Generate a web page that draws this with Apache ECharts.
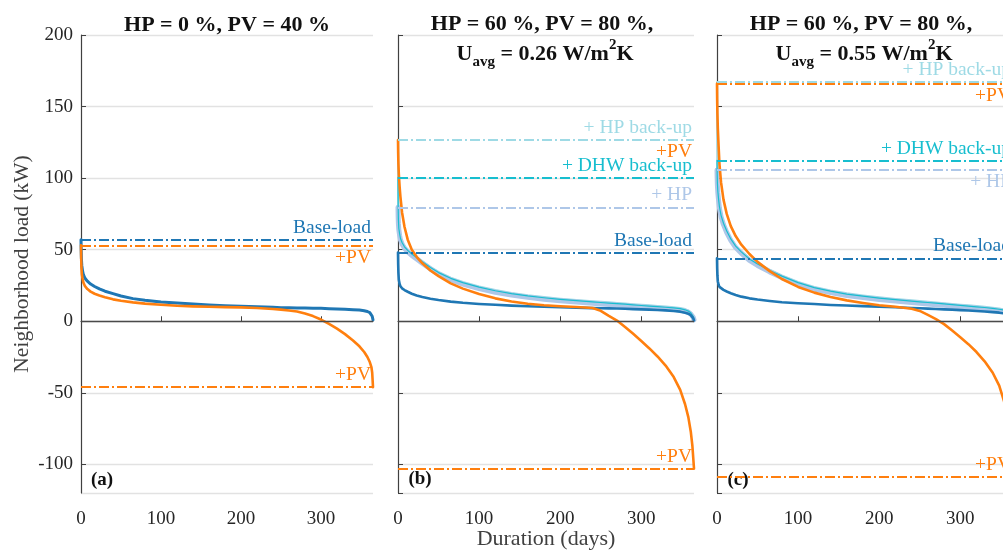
<!DOCTYPE html>
<html>
<head>
<meta charset="utf-8">
<title>Neighborhood load duration curves</title>
<script src="https://cdn.jsdelivr.net/npm/echarts@6/dist/echarts.min.js"></script>
<style>
  html, body { margin: 0; padding: 0; background: #fff; }
  #main-chart { width: 1003px; height: 551px; }
</style>
</head>
<body>
<div id="main-chart"></div>
<script>
// Duration axis (days), shared by every curve
const DAYS = [0, 0.2, 0.5, 1, 2, 3, 5, 8, 12, 17,
    23, 30, 40, 50, 65, 80, 100, 120, 140, 160,
    180, 200, 220, 240, 250, 260, 270, 280, 290, 300,
    310, 320, 330, 340, 348, 354, 358, 361, 363, 364, 365];

// (a) HP = 0 %, PV = 40 %
const A_BASE = [57, 50, 44, 39, 35, 32.5, 30, 28, 26, 24.3,
    22.6, 21, 19.3, 17.6, 15.8, 14.6, 13.5, 12.7, 12, 11.4,
    10.9, 10.5, 10.1, 9.7, 9.5, 9.4, 9.3, 9.2, 9.1, 9,
    8.8, 8.6, 8.4, 8.1, 7.8, 7.3, 6.8, 6, 5, 3.5, 1];
const A_PV = [53, 45, 38, 33, 29.5, 27, 24.5, 22.5, 20.7, 19.2,
    18, 16.8, 15.3, 14.3, 13.2, 12.3, 11.5, 10.8, 10.4, 10.1,
    9.9, 9.7, 9.3, 8.6, 8.1, 7.5, 6.8, 5.4, 3.6, 1.2,
    -1.8, -5.2, -9, -13.4, -17.5, -21.5, -25, -28.5, -32, -36, -46];

// (b) HP = 60 %, PV = 80 %, Uavg = 0.26
const B_BASE = [48, 40, 34, 29, 26, 24.5, 23, 21.8, 20.6, 19.2,
    18, 16.9, 15.7, 14.8, 13.7, 12.9, 12.1, 11.5, 10.9, 10.5,
    10.1, 9.8, 9.5, 9.2, 9.1, 9, 8.9, 8.7, 8.5, 8.3,
    8.1, 7.9, 7.6, 7.2, 6.7, 6, 5.3, 4.3, 3.2, 2.2, 0.5];
const B_HP = [79.6, 73, 68, 64, 60, 57, 54, 51, 48.5, 46,
    43.5, 40.5, 36.5, 33, 29, 26, 22.8, 20.3, 18.3, 16.7,
    15.4, 14.3, 13.4, 12.5, 12.1, 11.7, 11.3, 10.9, 10.4, 10,
    9.6, 9.2, 8.8, 8.3, 7.8, 7, 6.2, 5, 3.8, 2.8, 1];
const B_DHW = [100.5, 80, 71, 65, 61, 58, 55, 52, 49.5, 47,
    44.5, 41.5, 37.5, 34, 30, 27, 23.8, 21.3, 19.3, 17.7,
    16.4, 15.3, 14.4, 13.5, 13.1, 12.7, 12.3, 11.9, 11.4, 11,
    10.6, 10.2, 9.8, 9.3, 8.8, 8, 7.1, 5.9, 4.6, 3.5, 1.4];
const B_HPB = [126.6, 96, 78, 67, 62, 58.8, 55.5, 52.5, 50, 47.5,
    45, 42, 38, 34.5, 30.5, 27.5, 24.3, 21.8, 19.8, 18.2,
    16.9, 15.8, 14.9, 14, 13.6, 13.2, 12.8, 12.4, 11.9, 11.5,
    11.1, 10.7, 10.3, 9.8, 9.3, 8.5, 7.6, 6.3, 5, 3.8, 1.5];
const B_PV = [126.6, 118, 110, 103, 94, 87, 76, 66, 57, 50,
    45, 40.5, 35.5, 31.5, 26.5, 22.8, 19, 16, 13.8, 12.2,
    11.2, 10.5, 10, 9.3, 7.3, 3.8, 0.5, -4, -8.8, -13.8,
    -19, -24.6, -31, -39, -48, -58, -67, -77, -87, -95, -103];

// (c) HP = 60 %, PV = 80 %, Uavg = 0.55
const C_BASE = [44, 37, 32, 28, 25.5, 24, 22.8, 21.9, 20.8, 19.6,
    18.4, 17.2, 16, 15.2, 14.2, 13.3, 12.6, 12, 11.4, 11,
    10.6, 10.2, 9.8, 9.3, 9.1, 8.8, 8.6, 8.3, 8.1, 7.8,
    7.5, 7.2, 6.8, 6.4, 6, 5.5, 5, 4.2, 3.2, 2.2, 0.5];
const C_HP = [105.7, 100, 95, 90, 84, 79, 73, 67.5, 62, 56.5,
    51.5, 47.5, 42.5, 39, 34.5, 30.5, 26, 22.5, 20, 18,
    16.5, 15.2, 14.1, 13.1, 12.6, 12.1, 11.6, 11.1, 10.6, 10.1,
    9.6, 9.1, 8.6, 8, 7.4, 6.8, 6.2, 5.2, 4.2, 3.2, 1.2];
const C_DHW = [112.4, 103, 96.5, 91, 85, 80, 74, 68.5, 63, 57.5,
    52.5, 48.5, 43.5, 40, 35.5, 31.5, 27, 23.5, 21, 19,
    17.5, 16.2, 15.1, 14.1, 13.6, 13.1, 12.6, 12.1, 11.6, 11.1,
    10.6, 10.1, 9.6, 9, 8.4, 7.8, 7.2, 6.1, 5, 4, 1.8];
const C_HPB = [167, 130, 110, 95, 86, 80.5, 74.5, 69, 63.5, 58,
    53, 49, 44, 40.5, 36, 32, 27.5, 24, 21.5, 19.5,
    18, 16.7, 15.6, 14.6, 14.1, 13.6, 13.1, 12.6, 12.1, 11.6,
    11.1, 10.6, 10.1, 9.5, 8.9, 8.3, 7.7, 6.4, 5.2, 4.2, 2];
const C_PV = [166, 155, 145, 135, 122, 110, 97, 85, 75, 66.5,
    59.5, 53.5, 47, 41.5, 35, 29.5, 24, 20, 17, 14.6,
    12.8, 11.2, 10.1, 8.7, 7.2, 4.4, 1.5, -2, -6.5, -11.2,
    -16, -21.5, -28, -36, -45, -56, -67, -80, -92, -99, -108.5];

const LABELS = {
    base: 'Base-load',
    pv: '+PV',
    hp: '+ HP',
    dhw: '+ DHW back-up',
    hpb: '+ HP back-up'
};

const COLORS = {
    base: '#1f77b4',
    pv: '#ff7f0e',
    hp: '#aec7e8',
    dhw: '#17becf',
    hpb: '#9edae5'
};

const FONT = '"Liberation Serif", "Times New Roman", serif';
const DASH_DOT = [10, 3, 2, 3];
const last = arr => arr[arr.length - 1];

// Horizontal dash-dot line at a curve's extreme, labelled at the right end
function level(value, color, text, pos) {
    return {
        yAxis: value,
        lineStyle: { color: color, width: 2, type: DASH_DOT },
        label: {
            show: true, position: pos, formatter: text, distance: 2,
            color: color, fontFamily: FONT, fontSize: 19.5
        }
    };
}

function zeroLine() {
    return {
        yAxis: 0,
        lineStyle: { color: '#4a4a4a', width: 1.4, type: 'solid' },
        label: { show: false }
    };
}

function curve(gridIdx, values, color, width, marks) {
    return {
        type: 'line',
        xAxisIndex: gridIdx,
        yAxisIndex: gridIdx,
        data: DAYS.map((d, i) => [d, values[i]]),
        symbol: 'none',
        silent: true,
        lineStyle: { color: color, width: width, cap: 'round', join: 'round' },
        markLine: {
            silent: true,
            symbol: ['none', 'none'],
            animation: false,
            data: marks || []
        }
    };
}

const grids = [
    { left: 81, top: 35, width: 292, height: 458, outerBoundsMode: 'none', containLabel: false },
    { left: 398, top: 35, width: 296, height: 458, outerBoundsMode: 'none', containLabel: false },
    { left: 717, top: 35, width: 296, height: 458, outerBoundsMode: 'none', containLabel: false }
];

const axisColor = '#404040';

const xAxes = grids.map((g, i) => ({
    type: 'value',
    gridIndex: i,
    min: 0,
    max: 365,
    interval: 100,
    axisLine: { show: true, lineStyle: { color: axisColor, width: 1.2 } },
    axisTick: { show: true, inside: true, length: 5, lineStyle: { color: axisColor } },
    axisLabel: {
        fontFamily: FONT, fontSize: 19, color: '#262626', margin: 17,
        verticalAlign: 'top', lineHeight: 19, showMaxLabel: false
    },
    splitLine: { show: false },
    name: i === 1 ? 'Duration (days)' : '',
    nameLocation: 'middle',
    nameGap: 35,
    nameMoveOverlap: false,
    nameTextStyle: { fontFamily: FONT, fontSize: 22, color: axisColor, verticalAlign: 'top', lineHeight: 22 }
}));

const yAxes = grids.map((g, i) => ({
    type: 'value',
    gridIndex: i,
    min: -120,
    max: 200,
    splitNumber: 6,
    axisLine: { show: true, lineStyle: { color: axisColor, width: 1.2 } },
    axisTick: { show: true, inside: true, length: 5, lineStyle: { color: axisColor } },
    axisLabel: { show: i === 0, fontFamily: FONT, fontSize: 19, color: '#262626', margin: 8, showMinLabel: false },
    splitLine: { show: true, lineStyle: { color: '#e2e2e2', width: 1.3 } },
    name: i === 0 ? 'Neighborhood load (kW)' : '',
    nameLocation: 'middle',
    nameGap: 48,
    nameMoveOverlap: false,
    nameTextStyle: { fontFamily: FONT, fontSize: 21.5, color: axisColor }
}));

const series = [
    // (a)
    curve(0, A_BASE, COLORS.base, 3, [
        zeroLine(),
        level(A_BASE[0], COLORS.base, LABELS.base, 'insideEndTop')
    ]),
    curve(0, A_PV, COLORS.pv, 2.6, [
        level(A_PV[0], COLORS.pv, LABELS.pv, 'insideEndBottom'),
        level(last(A_PV), COLORS.pv, LABELS.pv, 'insideEndTop')
    ]),
    // (b)
    curve(1, B_HPB, COLORS.hpb, 2, [
        zeroLine(),
        level(B_PV[0], COLORS.pv, LABELS.pv, 'insideEndBottom'),
        level(B_HPB[0], COLORS.hpb, LABELS.hpb, 'insideEndTop')
    ]),
    curve(1, B_HP, COLORS.hp, 5, [level(B_HP[0], COLORS.hp, LABELS.hp, 'insideEndTop')]),
    curve(1, B_DHW, COLORS.dhw, 1.2, [level(B_DHW[0], COLORS.dhw, LABELS.dhw, 'insideEndTop')]),
    curve(1, B_BASE, COLORS.base, 2.6, [level(B_BASE[0], COLORS.base, LABELS.base, 'insideEndTop')]),
    curve(1, B_PV, COLORS.pv, 2.6, [level(last(B_PV), COLORS.pv, LABELS.pv, 'insideEndTop')]),
    // (c)
    curve(2, C_HPB, COLORS.hpb, 2, [
        zeroLine(),
        level(C_PV[0], COLORS.pv, LABELS.pv, 'insideEndBottom'),
        level(C_HPB[0], COLORS.hpb, LABELS.hpb, 'insideEndTop')
    ]),
    curve(2, C_HP, COLORS.hp, 5, [level(C_HP[0], COLORS.hp, LABELS.hp, 'insideEndBottom')]),
    curve(2, C_DHW, COLORS.dhw, 1.2, [level(C_DHW[0], COLORS.dhw, LABELS.dhw, 'insideEndTop')]),
    curve(2, C_BASE, COLORS.base, 2.6, [level(C_BASE[0], COLORS.base, LABELS.base, 'insideEndTop')]),
    curve(2, C_PV, COLORS.pv, 2.6, [level(last(C_PV), COLORS.pv, LABELS.pv, 'insideEndTop')])
];

// Panel titles and (a)/(b)/(c) tags
const titleRich = {
    b: { fontFamily: FONT, fontSize: 22, fontWeight: 'bold', fill: '#111', lineHeight: 32, verticalAlign: 'middle' },
    s: { fontFamily: FONT, fontSize: 15, fontWeight: 'bold', fill: '#111', lineHeight: 14, verticalAlign: 'bottom' },
    p: { fontFamily: FONT, fontSize: 15, fontWeight: 'bold', fill: '#111', lineHeight: 16, verticalAlign: 'top' }
};

function titleText(x, y, text) {
    return {
        type: 'text', x: x, y: y, silent: true,
        style: {
            text: text, fill: '#111', font: 'bold 22px ' + FONT,
            textAlign: 'center', textVerticalAlign: 'middle'
        }
    };
}

function uText(x, y, value) {
    return {
        type: 'text', x: x, y: y, silent: true,
        style: {
            text: '{b|U}{s|avg}{b| = ' + value + ' W/m}{p|2}{b|K}',
            rich: titleRich,
            textAlign: 'center', textVerticalAlign: 'middle'
        }
    };
}

function tagText(x, y, text) {
    return {
        type: 'text', x: x, y: y, silent: true,
        style: {
            text: text, fill: '#111', font: 'bold 19px ' + FONT,
            textAlign: 'center', textVerticalAlign: 'middle'
        }
    };
}

const chart = echarts.init(document.getElementById('main-chart'), null, { renderer: 'canvas' });
chart.setOption({
    animation: false,
    backgroundColor: '#fff',
    grid: grids,
    xAxis: xAxes,
    yAxis: yAxes,
    series: series,
    graphic: [
        titleText(227, 25, 'HP = 0 %, PV = 40 %'),
        titleText(542, 24, 'HP = 60 %, PV = 80 %,'),
        uText(545, 54, '0.26'),
        titleText(861, 24, 'HP = 60 %, PV = 80 %,'),
        uText(864, 54, '0.55'),
        tagText(102, 480, '(a)'),
        tagText(420, 479, '(b)'),
        tagText(738, 480, '(c)')
    ]
});
</script>
</body>
</html>
